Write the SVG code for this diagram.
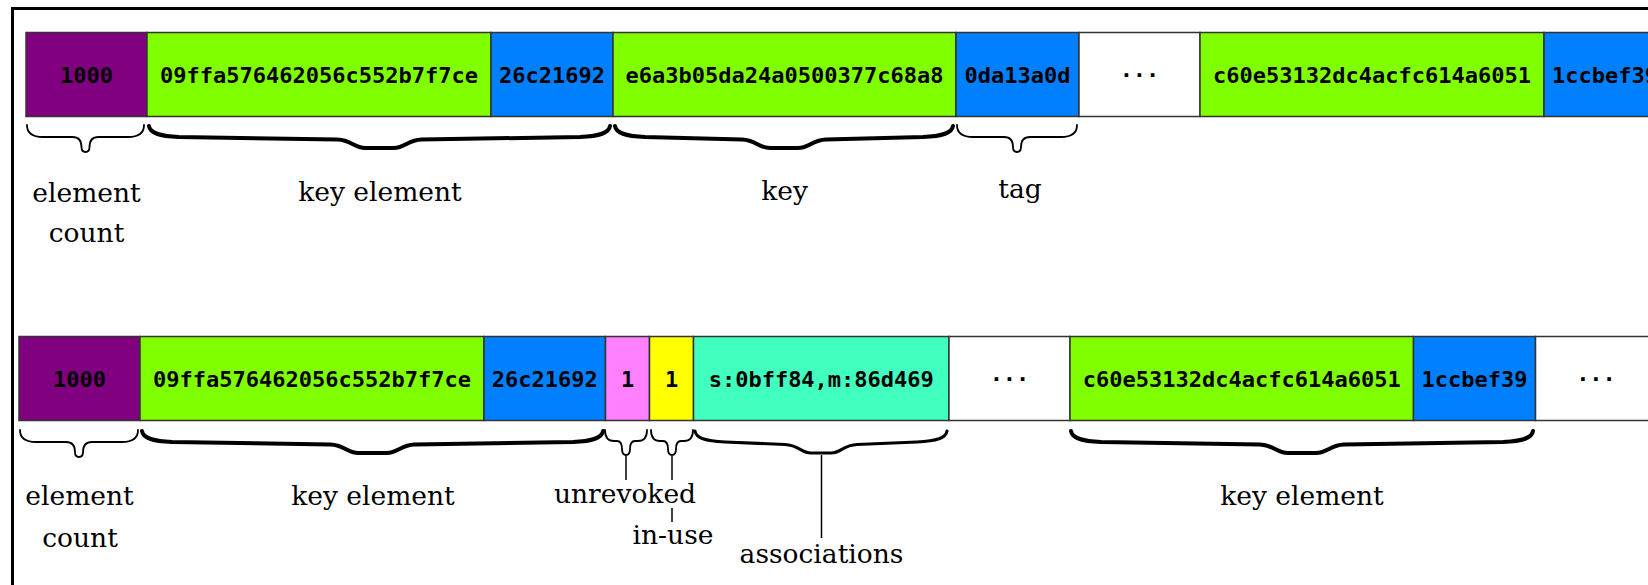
<svg xmlns="http://www.w3.org/2000/svg" width="1648" height="585" viewBox="0 0 1648 585">
<style>
.cell{stroke:#333;stroke-width:1.5}
.pu{fill:#800080}.gr{fill:#80ff00}.bl{fill:#0080ff}.pk{fill:#ff80ff}.ye{fill:#ffff00}.tl{fill:#40ffbf}.wh{fill:#fff}
.v{font-family:"DejaVu Sans Mono","Liberation Mono",monospace;font-weight:bold;font-size:22px;fill:#000;text-anchor:middle}
.lab{font-family:"DejaVu Serif","Liberation Serif",serif;font-size:26.5px;fill:#000;text-anchor:middle}
.br{fill:none;stroke:#000;stroke-linecap:round;stroke-linejoin:round}
.thin{stroke-width:1.8}.thick{stroke-width:4}.mid{stroke-width:3}
.ln{stroke:#000;stroke-width:1.5}
</style>
<rect width="1648" height="585" fill="#fff"/>
<rect x="12.5" y="8.5" width="1700" height="700" fill="none" stroke="#000" stroke-width="3"/>

<!-- top row -->
<g id="top-row">
<g id="t-count"><rect class="cell pu" x="26" y="32.5" width="121" height="84"/><text class="v" x="86.5" y="83">1000</text></g>
<g id="t-keyelem"><rect class="cell gr" x="147" y="32.5" width="344" height="84"/><text class="v" x="319" y="83">09ffa576462056c552b7f7ce</text>
<rect class="cell bl" x="491" y="32.5" width="122" height="84"/><text class="v" x="552" y="83">26c21692</text></g>
<g id="t-key"><rect class="cell gr" x="613" y="32.5" width="343" height="84"/><text class="v" x="784.5" y="83">e6a3b05da24a0500377c68a8</text></g>
<g id="t-tag"><rect class="cell bl" x="956" y="32.5" width="123" height="84"/><text class="v" x="1017.5" y="83">0da13a0d</text></g>
<g id="t-more"><rect class="cell wh" x="1079" y="32.5" width="121" height="84"/><text class="v" x="1139.5" y="83">···</text></g>
<g id="t-keyelem2"><rect class="cell gr" x="1200" y="32.5" width="344" height="84"/><text class="v" x="1372" y="83">c60e53132dc4acfc614a6051</text>
<rect class="cell bl" x="1544" y="32.5" width="122" height="84"/><text class="v" x="1605" y="83">1ccbef39</text></g>
</g>

<!-- bottom row -->
<g id="bottom-row">
<g id="b-count"><rect class="cell pu" x="19" y="336.5" width="121" height="84"/><text class="v" x="79.5" y="387">1000</text></g>
<g id="b-keyelem"><rect class="cell gr" x="140" y="336.5" width="344" height="84"/><text class="v" x="312" y="387">09ffa576462056c552b7f7ce</text>
<rect class="cell bl" x="484" y="336.5" width="121.5" height="84"/><text class="v" x="544.75" y="387">26c21692</text></g>
<g id="b-unrevoked"><rect class="cell pk" x="605.5" y="336.5" width="44" height="84"/><text class="v" x="627.5" y="387">1</text></g>
<g id="b-inuse"><rect class="cell ye" x="649.5" y="336.5" width="44" height="84"/><text class="v" x="671.5" y="387">1</text></g>
<g id="b-assoc"><rect class="cell tl" x="693.5" y="336.5" width="255.5" height="84"/><text class="v" x="821.25" y="387">s:0bff84,m:86d469</text></g>
<g id="b-more"><rect class="cell wh" x="949" y="336.5" width="121" height="84"/><text class="v" x="1009.5" y="387">···</text></g>
<g id="b-keyelem2"><rect class="cell gr" x="1070" y="336.5" width="343.5" height="84"/><text class="v" x="1241.75" y="387">c60e53132dc4acfc614a6051</text>
<rect class="cell bl" x="1413.5" y="336.5" width="122" height="84"/><text class="v" x="1474.5" y="387">1ccbef39</text></g>
<g id="b-more2"><rect class="cell wh" x="1535.5" y="336.5" width="130" height="84"/><text class="v" x="1596" y="387">···</text></g>
</g>

<!-- braces and leader lines -->
<g id="connectors">
<path class="br thin" d="M27,125 C27,134 33,137 43,137 L72.5,137 C79.5,137 81.5,142 81.5,147 Q81.5,152 85.5,152 Q89.5,152 89.5,147 C89.5,142 91.5,137 98.5,137 L128,137 C138,137 144,134 144,125"/>
<path class="br thick" d="M149,126 C150,133 159,136 179,137 L337.5,139.5 C351.5,140 353.5,148 365.5,148 L393.5,148 C405.5,148 407.5,140 421.5,139.5 L580,137 C600,136 609,133 610,126"/>
<path class="br thick" d="M615,126 C616,133 625,136 645,137 L742,139.5 C756,140 758,148 770,148 L798,148 C810,148 812,140 826,139.5 L923,137 C943,136 952,133 953,126"/>
<path class="br thin" d="M957,125 C957,134 963,137 973,137 L1004,137 C1011,137 1013,142 1013,147 Q1013,152 1017,152 Q1021,152 1021,147 C1021,142 1023,137 1030,137 L1061,137 C1071,137 1077,134 1077,125"/>

<path class="br thin" d="M20,430 C20,439 26,442 36,442 L66,442 C73,442 75,447 75,452 Q75,457 79,457 Q83,457 83,452 C83,447 85,442 92,442 L122,442 C132,442 138,439 138,430"/>
<path class="br thick" d="M142,431 C143,438 152,441 172,442 L330.5,444.5 C344.5,445 346.5,453 358.5,453 L386.5,453 C398.5,453 400.5,445 414.5,444.5 L573,442 C593,441 602,438 603,431"/>
<path class="br thin" d="M605,430 C605,437 608,441 614,441 L617,441 C621,441 622,445 622,449 Q622,455 626,455 Q630,455 630,449 C630,445 631,441 635,441 L638,441 C644,441 647,437 647,430"/>
<path class="br thin" d="M651,430 C651,437 654,441 660,441 L663,441 C667,441 668,445 668,449 Q668,455 672,455 Q676,455 676,449 C676,445 677,441 681,441 L684,441 C690,441 693,437 693,430"/>
<path class="br mid" d="M695,431 C696,438 705,441 725,442 L785,444.5 C799,445 801,453 811,453 L831,453 C841,453 843,445 857,444.5 L917,442 C937,441 946,438 947,431"/>
<path class="br thick" d="M1071,431 C1072,438 1081,441 1101,442 L1260,444.5 C1274,445 1276,453 1288,453 L1316,453 C1328,453 1330,445 1344,444.5 L1503,442 C1523,441 1532,438 1533,431"/>

<line class="ln" x1="626" y1="456" x2="626" y2="480"/>
<line class="ln" x1="672" y1="456" x2="672" y2="480"/>
<line class="ln" x1="672" y1="508" x2="672" y2="522"/>
<line class="ln" x1="821.5" y1="455" x2="821.5" y2="538"/>
</g>

<!-- labels -->
<g id="labels">
<text class="lab" x="86.5" y="201.5">element</text>
<text class="lab" x="86.5" y="241.5">count</text>
<text class="lab" x="380" y="201">key element</text>
<text class="lab" x="784.5" y="200">key</text>
<text class="lab" x="1020" y="198">tag</text>

<text class="lab" x="79.5" y="505">element</text>
<text class="lab" x="80" y="546.5">count</text>
<text class="lab" x="373" y="505">key element</text>
<text class="lab" x="625" y="503">unrevoked</text>
<text class="lab" x="673" y="544">in-use</text>
<text class="lab" x="821.5" y="563">associations</text>
<text class="lab" x="1302" y="505">key element</text>
</g>
</svg>
